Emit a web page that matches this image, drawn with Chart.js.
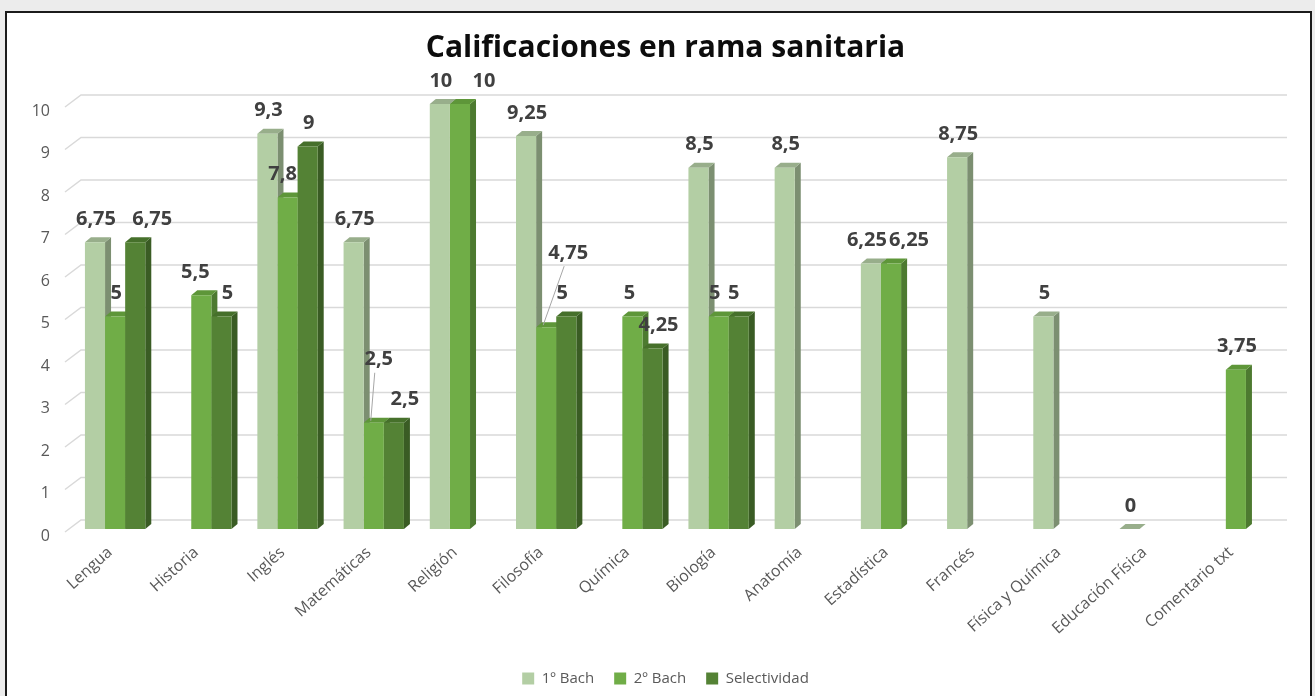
<!DOCTYPE html>
<html>
<head>
<meta charset="utf-8">
<script src="https://cdn.jsdelivr.net/npm/chart.js@4.4.1/dist/chart.umd.min.js"></script>
<style>
  html, body { margin: 0; padding: 0; background: #ececec; overflow: hidden; }
  #frame { position: absolute; left: 5px; top: 11px; width: 1303px; height: 700px;
           border: 2px solid #1b1b1b; background: #fff; }
  #c { position: absolute; left: 0; top: 0; }
</style>
</head>
<body>
<div id="frame"></div>
<canvas id="c" width="1315" height="696"></canvas>
<script>
// ===== data =====
const categories = ['Lengua', 'Historia', 'Inglés', 'Matemáticas', 'Religión', 'Filosofía', 'Química',
  'Biología', 'Anatomía', 'Estadística', 'Francés', 'Física y Química', 'Educación Física', 'Comentario txt'];
const bach1 = [6.75, null, 9.3, 6.75, 10, 9.25, null, 8.5, 8.5, 6.25, 8.75, 5, 0, null];
const bach2 = [5, 5.5, 7.8, 2.5, 10, 4.75, 5, 5, null, 6.25, null, null, null, 3.75];
const selectividad = [6.75, 5, 9, 2.5, null, 5, 4.25, 5, null, null, null, null, null, null];
const yTicks = [0, 1, 2, 3, 4, 5, 6, 7, 8, 9, 10];

// ===== colours =====
const fronts = ['#b3cea4', '#70ad47', '#548235'];
const sides  = ['#7c8f71', '#4d7a30', '#3a5c24'];
const tops   = ['#98ae8b', '#5e9639', '#46702b'];

// 3d depth: bars and back wall
const BX = 6, BY = 5;
const GX = 16, GY = 12;

// label tweaks (dataset-index) to mimic the placed labels
const labelShift = {
  '2-0': { dx: 16 },
  '1-1': { dx: -7 }, '2-1': { dx: 5 },
  '1-2': { dx: -6 },
  '1-3': { dx: 4, dy: -40, leader: true }, '2-3': { dx: 10 },
  '1-4': { dx: 23 },
  '1-5': { dx: 21, dy: -51, leader: true }, '2-5': { dx: -5 },
  '1-6': { dx: -4 }, '2-6': { dx: 5 },
  '1-7': { dx: -5 }, '2-7': { dx: -6 },
  '0-9': { dx: -5 }, '1-9': { dx: 17 }
};

const fmt = v => String(v).replace('.', ',');

// ===== 3d look: back wall grid + bar sides/tops =====
const threeD = {
  id: 'threeD',
  beforeDatasetsDraw(chart) {
    const { ctx, chartArea, scales } = chart;
    ctx.save();
    ctx.strokeStyle = '#d9d9d9';
    ctx.lineWidth = 1.5;
    yTicks.forEach(t => {
      const y = scales.y.getPixelForValue(t);
      ctx.beginPath();
      ctx.moveTo(chartArea.left - 7, y + 3);
      ctx.lineTo(chartArea.left - 7 + GX, y + 3 - GY);
      ctx.lineTo(chartArea.right + 8, y + 3 - GY);
      ctx.stroke();
    });
    chart.data.datasets.forEach((ds, i) => {
      const meta = chart.getDatasetMeta(i);
      meta.data.forEach((bar, j) => {
        if (ds.data[j] === null) return;
        const { x, y, base, width } = bar.getProps(['x', 'y', 'base', 'width'], true);
        const l = x - width / 2, r = x + width / 2;
        ctx.fillStyle = sides[i];
        ctx.beginPath();
        ctx.moveTo(r, y); ctx.lineTo(r + BX, y - BY); ctx.lineTo(r + BX, base - BY); ctx.lineTo(r, base);
        ctx.closePath(); ctx.fill();
        ctx.fillStyle = tops[i];
        ctx.beginPath();
        ctx.moveTo(l, y); ctx.lineTo(l + BX, y - BY); ctx.lineTo(r + BX, y - BY); ctx.lineTo(r, y);
        ctx.closePath(); ctx.fill();
      });
    });
    ctx.restore();
  }
};

// ===== data labels =====
const valueLabels = {
  id: 'valueLabels',
  afterDatasetsDraw(chart) {
    const { ctx } = chart;
    ctx.save();
    ctx.font = 'bold 20px "Open Sans"';
    ctx.fillStyle = '#404040';
    ctx.textAlign = 'center';
    ctx.textBaseline = 'middle';
    chart.data.datasets.forEach((ds, i) => {
      const meta = chart.getDatasetMeta(i);
      meta.data.forEach((bar, j) => {
        const v = ds.data[j];
        if (v === null) return;
        const { x, y } = bar.getProps(['x', 'y'], true);
        const s = labelShift[i + '-' + j] || {};
        const lx = x + 1 + (s.dx || 0);
        const ly = y - 23 + (s.dy || 0);
        if (s.leader) {
          ctx.strokeStyle = '#a6a6a6';
          ctx.lineWidth = 1;
          ctx.beginPath();
          ctx.moveTo(lx - 4, ly + 13);
          ctx.lineTo(x - 3, y - 2);
          ctx.stroke();
        }
        ctx.fillText(fmt(v), lx, ly);
      });
    });
    ctx.restore();
  }
};

Chart.defaults.font.family = '"Open Sans"';

new Chart(document.getElementById('c'), {
  type: 'bar',
  data: {
    labels: categories,
    datasets: [
      { label: '1º Bach', data: bach1, backgroundColor: fronts[0] },
      { label: '2º Bach', data: bach2, backgroundColor: fronts[1] },
      { label: 'Selectividad', data: selectividad, backgroundColor: fronts[2] }
    ]
  },
  options: {
    responsive: false,
    animation: false,
    devicePixelRatio: 1,
    categoryPercentage: 0.7,
    barPercentage: 1,
    layout: { padding: { left: 30, right: 14, top: 16, bottom: 0 } },
    plugins: {
      title: {
        display: true,
        text: 'Calificaciones en rama sanitaria',
        color: '#0d0d0d',
        font: { size: 30, weight: 'bold' },
        padding: { top: 14, bottom: 38 }
      },
      legend: {
        position: 'bottom',
        labels: { boxWidth: 12, boxHeight: 12, padding: 20, color: '#595959', font: { size: 15 } }
      },
      tooltip: { enabled: false }
    },
    scales: {
      x: {
        grid: { display: false, drawTicks: false },
        border: { display: false },
        ticks: { color: '#595959', font: { size: 16 }, minRotation: 42, maxRotation: 42, padding: 14, labelOffset: -5 },
        afterFit: s => { s.height = 122; }
      },
      y: {
        min: 0, max: 10,
        grid: { display: false, drawTicks: false },
        border: { display: false },
        ticks: { stepSize: 1, color: '#595959', font: { size: 16 }, padding: 22, labelOffset: 7 },
        afterFit: s => { s.width = 42; }
      },
      // empty right-hand spacer so title and legend sit where the original has them
      spacer: {
        type: 'linear',
        position: 'right',
        grid: { display: false, drawTicks: false },
        border: { display: false },
        ticks: { display: false },
        afterFit: s => { s.width = 22; }
      }
    }
  },
  plugins: [threeD, valueLabels]
});
</script>
</body>
</html>
